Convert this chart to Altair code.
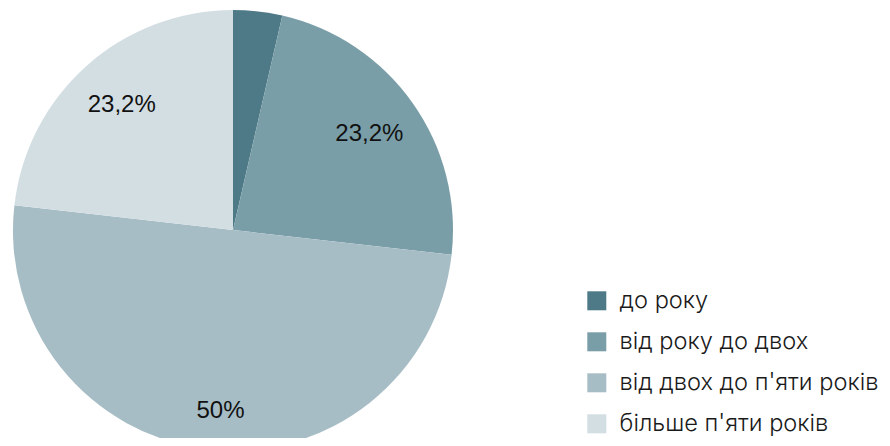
import altair as alt
import pandas as pd

categories = ["до року", "від року до двох", "від двох до п'яти років", "більше п'яти років"]
values = [3.6, 23.2, 50.0, 23.2]
labels = ["", "23,2%", "50%", "23,2%"]
colors = ["#4e7a88", "#7a9ea8", "#a7bdc5", "#d3dee3"]

df = pd.DataFrame({"category": categories, "value": values, "label": labels,
                   "order": list(range(len(categories)))})

base = alt.Chart(df).encode(
    theta=alt.Theta("value:Q", stack=True),
    order=alt.Order("order:Q"),
)

arcs = base.mark_arc(outerRadius=220).encode(
    x=alt.value(225),
    y=alt.value(222),
    color=alt.Color(
        "category:N",
        scale=alt.Scale(domain=categories, range=colors),
        sort=categories,
        legend=alt.Legend(
            title=None,
            orient="none",
            legendX=577,
            legendY=281,
            symbolType="square",
            symbolSize=361,
            symbolStrokeWidth=0,
            labelFontSize=23.6,
            labelFont="Inter",
            labelFontWeight=300,
            labelColor="#1a1a1a",
            labelOffset=11,
            labelLimit=0,
            rowPadding=16,
            padding=0,
        ),
    ),
)

text_kw = dict(fontSize=24, font="Liberation Sans", color="#111111",
               align="center", baseline="middle")

texts_small = base.mark_text(radius=167, **text_kw).encode(
    x=alt.value(225),
    y=alt.value(222),
    text=alt.Text("lbl:N"),
).transform_calculate(lbl="datum.value == 50 ? '' : datum.label")

texts_big = base.mark_text(radius=182, dx=8, **text_kw).encode(
    x=alt.value(225),
    y=alt.value(222),
    text=alt.Text("lbl:N"),
).transform_calculate(lbl="datum.value == 50 ? datum.label : ''")

chart = alt.layer(arcs, texts_small, texts_big).properties(
    width=874, height=430,
    autosize=alt.AutoSizeParams(type="none"),
    padding=0,
).configure_view(stroke=None)

chart.save("out.html", embed_options={"renderer": "svg", "actions": False})
